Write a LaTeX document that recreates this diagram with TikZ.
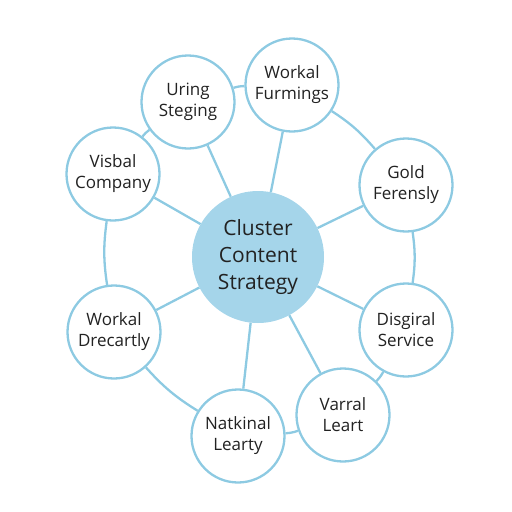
\documentclass[tikz,border=0pt]{standalone}
\usepackage{fontspec}
\setmainfont{Open Sans}
\definecolor{hubblue}{HTML}{A5D5EA}
\definecolor{ringblue}{HTML}{8DCAE2}
\definecolor{inkgray}{HTML}{222222}

\begin{document}
\begin{tikzpicture}[x=1pt,y=-1pt,
    hub/.style={circle,fill=hubblue,minimum size=132pt,inner sep=0pt,align=center,
        text=inkgray,font=\fontsize{21}{27}\selectfont},
    topic/.style={circle,draw=ringblue,line width=2.3pt,fill=white,minimum size=93pt,
        inner sep=0pt,align=center,text=inkgray,font=\fontsize{17}{21}\selectfont},
    spoke/.style={draw=ringblue,line width=2.3pt},
    rim/.style={draw=ringblue,line width=2.3pt,bend left=8}]
    \useasboundingbox (0,0) rectangle (512,512);
    \node[hub] (cluster) at (258,257) {Cluster\\Content\\Strategy};
    \node[topic] (uring) at (188,102) {Uring\\Steging};
    \node[topic] (furmings) at (292,85) {Workal\\Furmings};
    \node[topic] (gold) at (406,185) {Gold\\Ferensly};
    \node[topic] (service) at (406,330) {Disgiral\\Service};
    \node[topic] (varral) at (343,415) {Varral\\Leart};
    \node[topic] (natkinal) at (238,436) {Natkinal\\Learty};
    \node[topic] (drecartly) at (114,332) {Workal\\Drecartly};
    \node[topic] (visbal) at (113,174) {Visbal\\Company};
    \foreach \t in {uring,furmings,gold,service,varral,natkinal,drecartly,visbal}
        \draw[spoke] (cluster) -- (\t);
    \draw[rim] (visbal) to (uring);
    \draw[rim] (uring) to (furmings);
    \draw[rim] (furmings) to (gold);
    \draw[rim] (gold) to (service);
    \draw[rim] (service) to (varral);
    \draw[rim] (varral) to (natkinal);
    \draw[rim] (natkinal) to (drecartly);
    \draw[rim] (drecartly) to (visbal);
\end{tikzpicture}
\end{document}
